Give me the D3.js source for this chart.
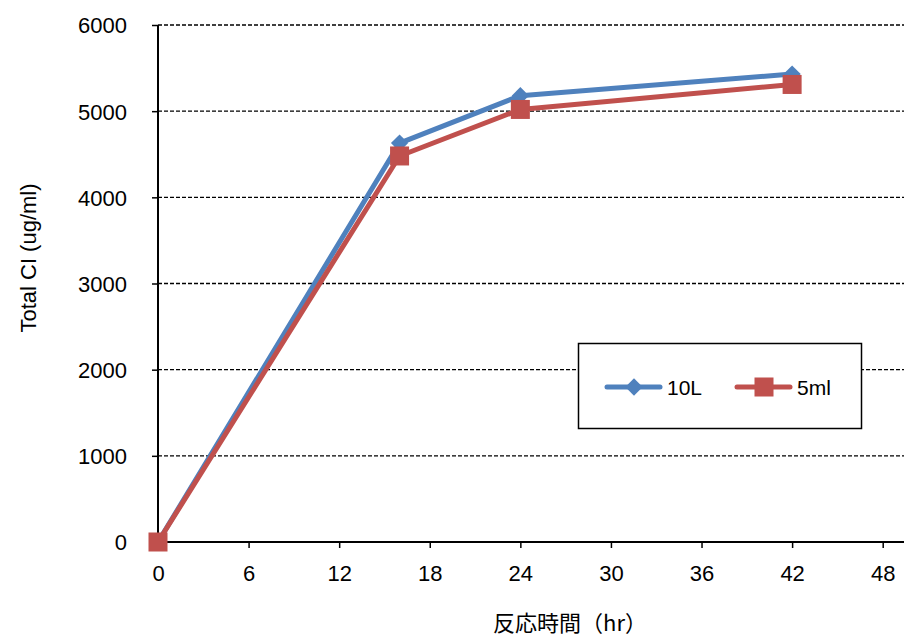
<!DOCTYPE html>
<html>
<head>
<meta charset="utf-8">
<script src="https://cdn.jsdelivr.net/npm/d3@7"></script>
<style>
  body { margin: 0; background: #fff; }
  text { font-family: "Liberation Sans", Arial, sans-serif; fill: #000; }
</style>
</head>
<body>
<div id="chart"></div>
<script>
var hours = [0, 16, 24, 42];
var series10L = [0, 4630, 5180, 5430];
var series5ml = [0, 4480, 5020, 5310];
var xTicks = [0, 6, 12, 18, 24, 30, 36, 42, 48];
var yTicks = [0, 1000, 2000, 3000, 4000, 5000, 6000];
var seriesNames = ["10L", "5ml"];
var colors = ["#4F81BD", "#C0504D"];

var width = 904, height = 636;
var svg = d3.select("#chart").append("svg")
  .attr("width", width).attr("height", height);

var x = d3.scaleLinear().domain([0, 48]).range([158, 882.7]);
var y = d3.scaleLinear().domain([0, 6000]).range([542, 25]);

// grid lines
svg.append("g").selectAll("line")
  .data(yTicks.filter(function (d) { return d > 0; }))
  .enter().append("line")
  .attr("x1", x(0)).attr("x2", width)
  .attr("y1", function (d) { return y(d); })
  .attr("y2", function (d) { return y(d); })
  .style("stroke", "#000")
  .style("stroke-width", 1.4)
  .style("stroke-dasharray", "4,2");

// axes
var yAxis = d3.axisLeft(y).tickValues(yTicks).tickFormat(d3.format("d")).tickSize(6).tickPadding(25);
var gy = svg.append("g").attr("transform", "translate(" + x(0) + ",0)").call(yAxis);
gy.select(".domain").remove();
gy.selectAll("line").style("stroke", "#000").style("stroke-width", 1.5);
gy.selectAll("text").style("font-size", "22px").attr("dy", "0.36em");
svg.append("line")
  .attr("x1", x(0)).attr("x2", x(0))
  .attr("y1", y(6000)).attr("y2", y(0))
  .style("stroke", "#000").style("stroke-width", 2);

var xAxis = d3.axisBottom(x).tickValues(xTicks).tickFormat(d3.format("d")).tickSize(6).tickPadding(17);
var gx = svg.append("g").attr("transform", "translate(0," + y(0) + ")").call(xAxis);
gx.select(".domain").remove();
gx.selectAll("line").style("stroke", "#000").style("stroke-width", 1.5);
gx.selectAll("text").style("font-size", "22px");
svg.append("line")
  .attr("x1", x(0)).attr("x2", width)
  .attr("y1", y(0)).attr("y2", y(0))
  .style("stroke", "#000").style("stroke-width", 2);

// axis titles
svg.append("text")
  .attr("x", 570).attr("y", 631)
  .attr("text-anchor", "middle")
  .style("font-family", "'Noto Sans CJK JP', sans-serif")
  .style("font-size", "22px")
  .text("反応時間（hr）");
svg.append("text")
  .attr("transform", "translate(36,258) rotate(-90)")
  .attr("text-anchor", "middle")
  .style("font-size", "22px")
  .text("Total CI (ug/ml)");

// series
var line = d3.line()
  .x(function (d) { return x(d[0]); })
  .y(function (d) { return y(d[1]); });

var allSeries = [series10L, series5ml];
var diamond = d3.symbol().type(d3.symbolDiamond2).size(190);

allSeries.forEach(function (vals, i) {
  var pts = hours.map(function (h, j) { return [h, vals[j]]; });
  svg.append("path")
    .datum(pts)
    .attr("d", line)
    .style("fill", "none")
    .style("stroke", colors[i])
    .style("stroke-width", 5)
    .style("stroke-linejoin", "round");
  var g = svg.append("g");
  if (i === 0) {
    g.selectAll("path").data(pts).enter().append("path")
      .attr("d", diamond)
      .attr("transform", function (d) { return "translate(" + x(d[0]) + "," + y(d[1]) + ")"; })
      .style("fill", colors[i]);
  } else {
    g.selectAll("rect").data(pts).enter().append("rect")
      .attr("x", function (d) { return x(d[0]) - 9.5; })
      .attr("y", function (d) { return y(d[1]) - 9.5; })
      .attr("width", 19).attr("height", 19)
      .style("fill", colors[i]);
  }
});

// legend
var legend = svg.append("g");
legend.append("rect")
  .attr("x", 578.5).attr("y", 343.5)
  .attr("width", 283).attr("height", 85)
  .style("fill", "#fff").style("stroke", "#000").style("stroke-width", 1.5);

var legendX = [607, 737];
seriesNames.forEach(function (name, i) {
  var lx = legendX[i], ly = 387;
  legend.append("line")
    .attr("x1", lx).attr("x2", lx + 53)
    .attr("y1", ly).attr("y2", ly)
    .style("stroke", colors[i]).style("stroke-width", 5)
    .style("stroke-linecap", "round");
  if (i === 0) {
    legend.append("path")
      .attr("d", diamond)
      .attr("transform", "translate(" + (lx + 27) + "," + ly + ")")
      .style("fill", colors[i]);
  } else {
    legend.append("rect")
      .attr("x", lx + 27 - 9.5).attr("y", ly - 9.5)
      .attr("width", 19).attr("height", 19)
      .style("fill", colors[i]);
  }
  legend.append("text")
    .attr("x", lx + 60).attr("y", ly + 8)
    .style("font-size", "21px")
    .text(name);
});
</script>
</body>
</html>
